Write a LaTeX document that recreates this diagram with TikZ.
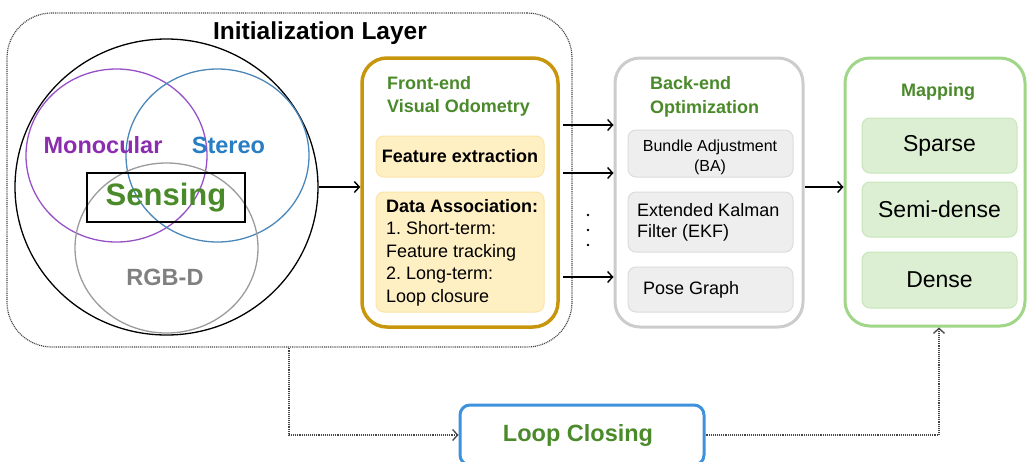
\documentclass[tikz,border=0pt]{standalone}
\usepackage{fontspec}
\setmainfont{Liberation Sans}
\usetikzlibrary{arrows.meta,shapes.geometric}
\definecolor{dotgray}{RGB}{70,70,70}
\definecolor{tgreen}{RGB}{74,138,42}
\definecolor{monoc}{RGB}{140,45,175}
\definecolor{monocline}{RGB}{150,80,200}
\definecolor{stereoc}{RGB}{40,125,195}
\definecolor{stereoline}{RGB}{75,135,185}
\definecolor{rgbdc}{RGB}{128,128,128}
\definecolor{rgbdline}{RGB}{155,155,155}
\definecolor{gold}{RGB}{200,150,12}
\definecolor{yfill}{RGB}{255,240,196}
\definecolor{ystroke}{RGB}{252,228,168}
\definecolor{begray}{RGB}{204,204,204}
\definecolor{gfill}{RGB}{238,238,238}
\definecolor{gstroke}{RGB}{220,220,220}
\definecolor{mapline}{RGB}{160,214,135}
\definecolor{mfill}{RGB}{220,239,211}
\definecolor{mstroke}{RGB}{200,230,186}
\definecolor{lcblue}{RGB}{62,145,220}
\frenchspacing
\begin{document}
\begin{tikzpicture}[x=1pt,y=-1pt,
  dotline/.style={draw=dotgray, line width=1.2pt, dash pattern=on 1pt off 0.9pt},
  arr/.style={-{Straight Barb[length=5pt,width=11pt,line width=1.4pt]}, line width=1.4pt, black},
  darr/.style={dotline, -{Straight Barb[length=5pt,width=11pt,line width=1.3pt]}},
  bigbox/.style={rounded corners=25, inner sep=0, fill=white},
  ybox/.style={fill=yfill, draw=ystroke, line width=1pt, rounded corners=8, inner sep=0},
  gbox/.style={fill=gfill, draw=gstroke, line width=1pt, rounded corners=8, inner sep=0},
  mbox/.style={fill=mfill, draw=mstroke, line width=1pt, rounded corners=8, inner sep=0,
    font=\fontsize{23}{26}\selectfont},
  ring/.style={ellipse, inner sep=0, line width=1.3pt},
]
\useasboundingbox (0,0) rectangle (1027,461);
\clip (0,0) rectangle (1027,461);

% Initialization layer
\node[dotline, rounded corners=45, minimum width=565, minimum height=334, inner sep=0] (init) at (289.5,180) {};
\node[font=\bfseries\fontsize{24.5}{28}\selectfont] (inittitle) at (320,33) {Initialization Layer};

\node[ring, draw=black, minimum width=303, minimum height=296] (big) at (166.5,187) {};
\node[ring, draw=monocline, minimum width=181, minimum height=173] (monoring) at (116.5,155.5) {};
\node[ring, draw=stereoline, minimum width=183, minimum height=173] (stereoring) at (217.5,155.5) {};
\node[ring, draw=rgbdline, minimum width=183, minimum height=170] (rgbdring) at (166.5,248) {};
\node[draw=black, line width=1.3pt, minimum width=158, minimum height=49, inner sep=0,
  text=tgreen, font=\bfseries\fontsize{31}{34}\selectfont] (sens) at (166,197.5) {Sensing};
\node[text=monoc, font=\bfseries\fontsize{23.5}{26}\selectfont] (monolbl) at (103,145) {Monocular};
\node[text=stereoc, font=\bfseries\fontsize{23.5}{26}\selectfont] (stereolbl) at (228.5,145) {Stereo};
\node[text=rgbdc, font=\bfseries\fontsize{23.5}{26}\selectfont] (rgbdlbl) at (165,277) {RGB-D};

% Front-end
\node[bigbox, draw=gold, line width=3.5pt, minimum width=196, minimum height=269] (fe) at (460,192.5) {};
\node[anchor=west, align=left, inner sep=0, text=tgreen, font=\bfseries\fontsize{18}{23}\selectfont] (fetitle) at (387,96.5) {Front-end\\Visual Odometry};
\node[ybox, minimum width=168, minimum height=41, font=\bfseries\fontsize{18}{22}\selectfont] (fext) at (460,156.5) {Feature extraction};
\node[ybox, minimum width=168, minimum height=120] (da) at (460,252) {};
\node[anchor=west, align=left, inner sep=0, font=\fontsize{18}{22.5}\selectfont] (datext) at (386,252.5) {\textbf{Data Association:}\\1. Short-term:\\Feature tracking\\2. Long-term:\\Loop closure};

% Back-end
\node[bigbox, draw=begray, line width=3pt, minimum width=188, minimum height=269] (be) at (709,192.5) {};
\node[anchor=west, align=left, inner sep=0, text=tgreen, font=\bfseries\fontsize{18}{24}\selectfont] (betitle) at (650,97) {Back-end\\Optimization};
\node[gbox, minimum width=165, minimum height=47] (ba) at (710.5,153.5) {};
\node[align=center, inner sep=0, font=\fontsize{16}{20}\selectfont] (batext) at (710,157) {Bundle Adjustment\\(BA)};
\node[gbox, minimum width=165, minimum height=60] (ekf) at (710.5,222) {};
\node[anchor=west, align=left, inner sep=0, font=\fontsize{18}{21.5}\selectfont] (ekftext) at (637,222.5) {Extended Kalman\\Filter (EKF)};
\node[gbox, minimum width=165, minimum height=45] (pg) at (710.5,289.5) {};
\node[anchor=west, inner sep=0, font=\fontsize{18}{22}\selectfont] (pgtext) at (643,289.5) {Pose Graph};

% Mapping
\node[bigbox, draw=mapline, line width=3pt, minimum width=180, minimum height=268] (map) at (935,192) {};
\node[text=tgreen, font=\bfseries\fontsize{18}{22}\selectfont] (maptitle) at (938,92) {Mapping};
\node[mbox, minimum width=155, minimum height=55] (sparse) at (939.5,145.5) {Sparse};
\node[mbox, minimum width=155, minimum height=55] (semi) at (939.5,209.5) {Semi-dense};
\node[mbox, minimum width=155, minimum height=56] (dense) at (939.5,280) {Dense};

% Loop closing
\node[draw=lcblue, line width=3pt, rounded corners=10, minimum width=244, minimum height=60, inner sep=0] (lc) at (582,435) {};
\node[text=tgreen, font=\bfseries\fontsize{23.5}{26}\selectfont, inner sep=0] (lctext) at (578,435) {Loop Closing};

% Connectors
\draw[arr] (big.east) -- (fe.west |- big.east);
\draw[arr, shorten <=3pt] (fe.east |- 0,125) -- (be.west |- 0,125);
\draw[arr, shorten <=3pt] (fe.east |- 0,173) -- (be.west |- 0,173);
\draw[arr, shorten <=3pt] (fe.east |- 0,277) -- (be.west |- 0,277);
\fill (588,215) circle (1.3) (588,230) circle (1.3) (588,245) circle (1.3);
\draw[arr] (be.east |- 0,187) -- (map.west |- 0,187);

\draw[darr] (init.south -| 289,0) |- (lc.west);
\draw[darr] (lc.east) -| (map.south -| 939,0);
\end{tikzpicture}
\end{document}
